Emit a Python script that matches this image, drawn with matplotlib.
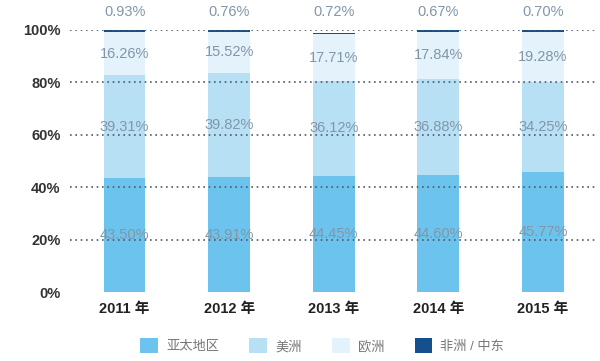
import numpy as np
import matplotlib
matplotlib.use('Agg')
import matplotlib.pyplot as plt
from matplotlib.patches import Patch

plt.rcParams['font.family'] = ['Liberation Sans', 'Noto Sans CJK SC', 'DejaVu Sans']

years = ['2011 年', '2012 年', '2013 年', '2014 年', '2015 年']
series_names = ['亚太地区', '美洲', '欧洲', '非洲 / 中东']
asia = [43.50, 43.91, 44.45, 44.60, 45.77]
americas = [39.31, 39.82, 36.12, 36.88, 34.25]
europe = [16.26, 15.52, 17.71, 17.84, 19.28]
mea = [0.93, 0.76, 0.72, 0.67, 0.70]
yticks = [0, 20, 40, 60, 80, 100]

colors = ['#6cc4ee', '#b8e0f5', '#e4f2fb', '#164f8e']
label_color = '#8296a8'

fig = plt.figure(figsize=(6, 3.61), dpi=100)
ax = fig.add_axes([0.117, 0.191, 0.875, 0.726])

x = np.arange(len(years))
width = 0.4
bottom = np.zeros(len(years))
for vals, col in zip([asia, americas, europe, mea], colors):
    vals = np.array(vals)
    ax.bar(x, vals, width, bottom=bottom, color=col, zorder=2)
    bottom += vals

# value labels
b = np.zeros(len(years))
for vals in [asia, americas, europe]:
    vals = np.array(vals)
    for i in range(len(years)):
        ax.text(x[i], b[i] + vals[i] / 2, '%.2f%%' % vals[i], ha='center', va='center',
                fontsize=10.5, color=label_color, zorder=4)
    b += vals
for i in range(len(years)):
    ax.text(x[i], 107, '%.2f%%' % mea[i], ha='center', va='center',
            fontsize=10.5, color=label_color, clip_on=False)

for t in yticks[1:]:
    ax.axhline(t, color='#4a5a6a', linestyle=(0, (1, 2.2)), linewidth=1.2, zorder=3)

ax.set_xlim(-0.52, 4.5)
ax.set_ylim(0, 100)
ax.set_yticks(yticks)
ax.set_yticklabels(['%d%%' % t for t in yticks], fontweight='bold', fontsize=10.5, color='#333333')
ax.set_xticks(x)
ax.set_xticklabels(years, fontweight='bold', fontsize=10.5, color='#222222')
ax.tick_params(length=0)
ax.tick_params(axis='y', pad=7)
ax.tick_params(axis='x', pad=7)
for s in ax.spines.values():
    s.set_visible(False)

handles = [Patch(facecolor=c, edgecolor='none') for c in colors]
leg = fig.legend(handles, series_names, loc='center', bbox_to_anchor=(0.537, 0.042), ncol=4,
                 frameon=False, fontsize=9.5, handlelength=1.35, handleheight=1.35,
                 columnspacing=2.3, handletextpad=0.6)
for t in leg.get_texts():
    t.set_color('#777777')

plt.savefig('out.png', dpi=100)
